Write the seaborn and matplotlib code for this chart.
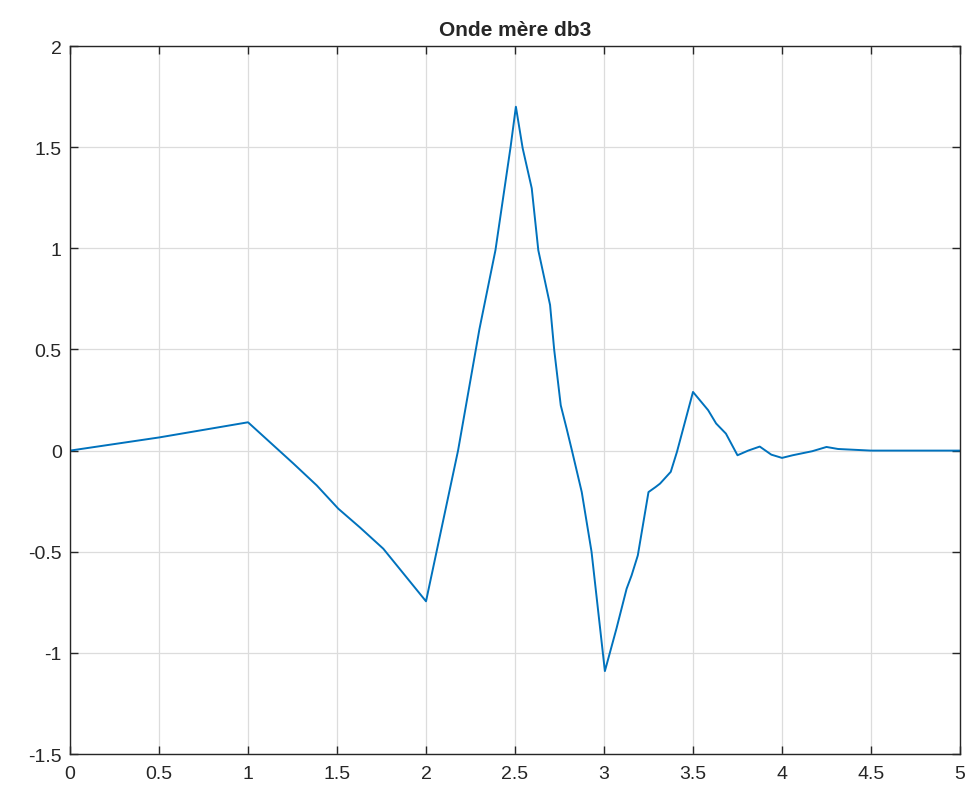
import matplotlib
matplotlib.use("Agg")
import matplotlib.pyplot as plt
import seaborn as sns
import pandas as pd

# ---------------------------
# Data (db3 mother wavelet)
# ---------------------------
t_values = [0.0, 0.5, 1.0, 1.13, 1.255, 1.386, 1.507, 1.629, 1.76, 2.0,
            2.18, 2.30, 2.39, 2.475, 2.505, 2.543, 2.594, 2.631, 2.669, 2.697,
            2.72, 2.757, 2.79, 2.82, 2.875, 2.93, 3.005, 3.07, 3.127, 3.155,
            3.19, 3.25, 3.29, 3.315, 3.375, 3.41, 3.5, 3.585, 3.63,
            3.685, 3.75, 3.81, 3.875, 3.94, 4.0, 4.06, 4.17, 4.25, 4.315,
            4.5, 4.75, 5.0]
psi_values = [0.0, 0.065, 0.14, 0.036, -0.064, -0.172, -0.287, -0.38, -0.485, -0.745,
              0.0, 0.60, 0.99, 1.50, 1.70, 1.495, 1.297, 0.99, 0.835, 0.72,
              0.50, 0.224, 0.109, 0.0, -0.205, -0.50, -1.09, -0.88, -0.683, -0.617,
              -0.518, -0.205, -0.18, -0.163, -0.105, -0.006, 0.29, 0.20, 0.134,
              0.084, -0.023, 0.0, 0.02, -0.02, -0.036, -0.023, -0.003, 0.018, 0.008,
              0.0, 0.0, 0.0]

x_ticks = [0, 0.5, 1, 1.5, 2, 2.5, 3, 3.5, 4, 4.5, 5]
x_tick_labels = ["0", "0.5", "1", "1.5", "2", "2.5", "3", "3.5", "4", "4.5", "5"]
y_ticks = [-1.5, -1, -0.5, 0, 0.5, 1, 1.5, 2]
y_tick_labels = ["-1.5", "-1", "-0.5", "0", "0.5", "1", "1.5", "2"]

df = pd.DataFrame({"t": t_values, "psi": psi_values})

# ---------------------------
# Plot
# ---------------------------
sns.set_style("white")
plt.rcParams["font.family"] = ["Liberation Sans", "DejaVu Sans"]

fig = plt.figure(figsize=(9.74, 8.04), dpi=100)
ax = fig.add_axes([0.0719, 0.0609, 0.9137, 0.8806])

sns.lineplot(data=df, x="t", y="psi", sort=False, estimator=None,
             color="#0072BD", linewidth=1.4, ax=ax)

ax.set_xlim(0, 5)
ax.set_ylim(-1.5, 2)
ax.set_xticks(x_ticks)
ax.set_xticklabels(x_tick_labels)
ax.set_yticks(y_ticks)
ax.set_yticklabels(y_tick_labels)
ax.set_xlabel("")
ax.set_ylabel("")

ax.grid(True, color="#dcdcdc", linewidth=0.9)
ax.set_axisbelow(True)
for side in ["top", "bottom", "left", "right"]:
    ax.spines[side].set_visible(True)
    ax.spines[side].set_color("#262626")
    ax.spines[side].set_linewidth(1.0)

ax.tick_params(axis="both", direction="in", length=6, width=1.0,
               colors="#262626", labelsize=14, top=True, right=True,
               bottom=True, left=True)
ax.tick_params(axis="x", pad=8)
ax.tick_params(axis="y", pad=6)

ax.set_title("Onde mère db3", fontsize=15, fontweight="bold", pad=8)

fig.savefig("out.png", dpi=100)
